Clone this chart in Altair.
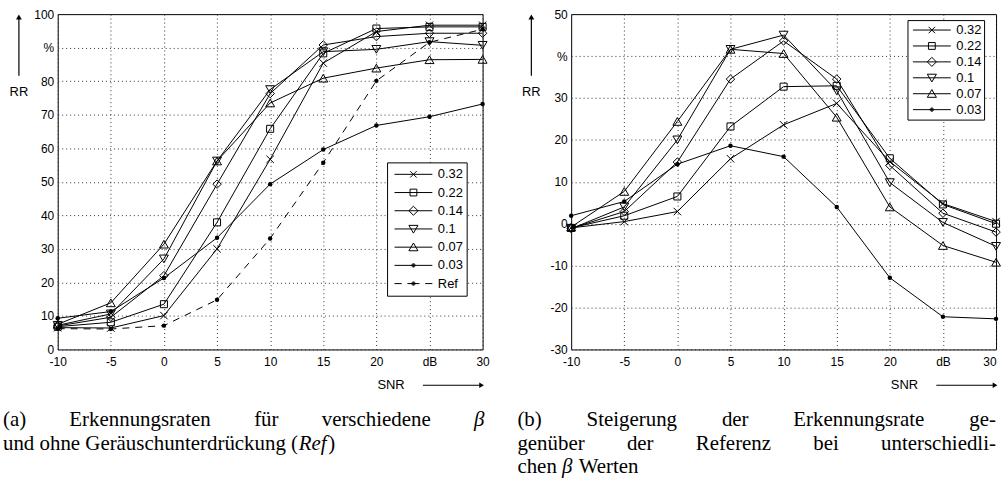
import altair as alt
import pandas as pd

# ---------------- data ----------------
snr = [-10, -5, 0, 5, 10, 15, 20, 25, 30]
series_a = ["0.32", "0.22", "0.14", "0.1", "0.07", "0.03", "Ref"]
series_b = ["0.32", "0.22", "0.14", "0.1", "0.07", "0.03"]

# (a) recognition rate RR in %
rr_032 = [6.5, 6.4, 10.1, 30.0, 56.7, 85.4, 94.8, 96.7, 96.7]
rr_022 = [6.8, 8.1, 13.5, 37.9, 65.8, 88.3, 95.7, 96.2, 96.2]
rr_014 = [7.0, 9.6, 22.0, 49.3, 76.3, 90.8, 93.3, 94.3, 94.3]
rr_010 = [7.2, 10.6, 27.0, 56.2, 77.5, 88.8, 89.5, 91.8, 90.7]
rr_007 = [7.5, 13.9, 31.4, 56.2, 73.5, 80.9, 83.9, 86.4, 86.5]
rr_003 = [9.3, 11.3, 21.3, 33.3, 49.3, 59.6, 66.8, 69.4, 73.2]
rr_ref = [6.2, 6.1, 7.1, 14.8, 33.1, 55.7, 80.1, 91.6, 95.5]

# (b) improvement over reference in %
gain_032 = [-1.0, 0.5, 2.9, 15.5, 23.6, 28.7, 14.8, 4.8, 0.5]
gain_022 = [-1.0, 1.9, 6.5, 23.2, 32.7, 32.9, 15.6, 4.6, 0.0]
gain_014 = [-1.1, 2.9, 14.7, 34.5, 43.6, 34.5, 13.9, 2.5, -2.0]
gain_010 = [-1.2, 4.0, 20.0, 41.6, 45.0, 31.7, 9.8, 0.3, -5.4]
gain_007 = [-0.8, 7.7, 24.4, 41.6, 40.6, 25.4, 4.0, -5.2, -9.2]
gain_003 = [1.9, 5.3, 14.2, 18.6, 16.0, 4.0, -12.9, -22.2, -22.7]

x_ticks = [-10, -5, 0, 5, 10, 15, 20, 25, 30]
y_ticks_a = [0, 10, 20, 30, 40, 50, 60, 70, 80, 90, 100]
y_ticks_b = [-30, -20, -10, 0, 10, 20, 30, 40, 50]

vals_a = [rr_032, rr_022, rr_014, rr_010, rr_007, rr_003, rr_ref]
vals_b = [gain_032, gain_022, gain_014, gain_010, gain_007, gain_003]

df_a = pd.DataFrame([{"snr": x, "v": v, "series": s}
                     for s, vs in zip(series_a, vals_a) for x, v in zip(snr, vs)])
df_b = pd.DataFrame([{"snr": x, "v": v, "series": s}
                     for s, vs in zip(series_b, vals_b) for x, v in zip(snr, vs)])

# ---------------- styling ----------------
SANS = "Liberation Sans"
SERIF = "Liberation Serif"
W, H = 427, 337

marker = {
    "0.32": ("M-1,-1L1,1M-1,1L1,-1", 56, False),
    "0.22": ("square", 50, False),
    "0.14": ("diamond", 72, False),
    "0.1": ("triangle-down", 80, False),
    "0.07": ("triangle-up", 80, False),
    "0.03": ("circle", 20, True),
    "Ref": ("circle", 20, True),
}

DOT = ("M0.09,0A0.09,0.09 0 1,1 -0.09,0A0.09,0.09 0 1,1 0.09,0"
       "M0.05,0A0.05,0.05 0 1,1 -0.05,0A0.05,0.05 0 1,1 0.05,0"
       "M0.015,0A0.015,0.015 0 1,1 -0.015,0A0.015,0.015 0 1,1 0.015,0")
legend_paths = {
    "0.32": "M-1,0L1,0M-0.17,-0.17L0.17,0.17M-0.17,0.17L0.17,-0.17",
    "0.22": "M-1,0L1,0M-0.18,-0.18L0.18,-0.18L0.18,0.18L-0.18,0.18Z",
    "0.14": "M-1,0L1,0M0,-0.24L0.24,0L0,0.24L-0.24,0Z",
    "0.1": "M-1,0L1,0M-0.24,-0.19L0.24,-0.19L0,0.22Z",
    "0.07": "M-1,0L1,0M-0.24,0.19L0.24,0.19L0,-0.22Z",
    "0.03": "M-1,0L1,0" + DOT,
    "Ref": "M-1,0L-0.62,0M-0.32,0L0.32,0M0.62,0L1,0" + DOT,
}

one = pd.DataFrame({"t": [""]})


def text_layer(txt, x, y, font=SANS, size=13, italic=False, align="left"):
    return alt.Chart(pd.DataFrame({"t": [txt]})).mark_text(
        align=align, baseline="middle", font=font, fontSize=size,
        fontStyle="italic" if italic else "normal", color="black"
    ).encode(x=alt.value(x), y=alt.value(y), text="t:N")


def panel(df, series, ydom, yticks, pct, leg, captions, arrow_x, last_right=False):
    xaxis_kw = dict(values=x_ticks, title=None, grid=True, labelPadding=7, labelFlush=False,
                    labelExpr="datum.value == 25 ? 'dB' : (datum.value < 0 ? '' + datum.value + '\u2002' : '' + datum.value)")
    if last_right:
        xaxis_kw["labelAlign"] = {"condition": {"test": "datum.value == 30", "value": "right"},
                                  "value": "center"}
    xenc = alt.X("snr:Q", scale=alt.Scale(domain=[-10, 30], nice=False, zero=False),
                 axis=alt.Axis(**xaxis_kw))
    yenc = alt.Y("v:Q", scale=alt.Scale(domain=ydom, nice=False, zero=False),
                 axis=alt.Axis(values=yticks, title=None, grid=True, labelPadding=4,
                               labelFlush=False,
                               labelExpr="datum.value == %d ? '%%' : '' + datum.value" % pct))
    base = alt.Chart(df).encode(x=xenc, y=yenc)
    layers = []
    solid = [s for s in series if s != "Ref"]
    layers.append(base.transform_filter(alt.FieldOneOfPredicate(field="series", oneOf=solid))
                  .mark_line(color="black", strokeWidth=1).encode(detail="series:N"))
    if "Ref" in series:
        layers.append(base.transform_filter(alt.datum.series == "Ref")
                      .mark_line(color="black", strokeWidth=1, strokeDash=[7, 6]))
    for s in series:
        shp, sz, filled = marker[s]
        layers.append(base.transform_filter(alt.datum.series == s).mark_point(
            shape=shp, size=sz, filled=filled, color="black", opacity=1, strokeWidth=1))
    # legend (built from the shape scale, no visible data marks)
    layers.append(base.transform_filter("false").mark_point(
        color="black", opacity=1, strokeWidth=1, size=1444, filled=False).encode(
        shape=alt.Shape("series:N",
                        scale=alt.Scale(domain=series, range=[legend_paths[s] for s in series]),
                        legend=alt.Legend(
                            title=None, orient="none", legendX=leg["x"], legendY=leg["y"],
                            padding=leg["pad"], strokeColor="black", fillColor="white",
                            symbolSize=1444, symbolStrokeWidth=1, symbolStrokeColor="black",
                            symbolFillColor="transparent", symbolOffset=leg["symoff"],
                            labelOffset=5, labelFont=SANS, labelFontSize=13, labelColor="black",
                            clipHeight=leg["clip"], rowPadding=leg["rowpad"],
                            labelExpr="datum.label == '0.1' ? '\u00a00.1' : datum.label"))))
    # axis annotations: RR with up arrow, SNR with right arrow
    layers.append(alt.Chart(one).mark_rule(color="black", strokeWidth=1.2).encode(
        x=alt.value(arrow_x), y=alt.value(4), y2=alt.value(62)))
    layers.append(alt.Chart(one).mark_point(shape="triangle-up", filled=True, size=34,
                                            color="black", opacity=1).encode(
        x=alt.value(arrow_x), y=alt.value(3)))
    layers.append(text_layer("RR", arrow_x, 78, align="center"))
    layers.append(text_layer("SNR", W - 92, 373, align="center"))
    layers.append(alt.Chart(one).mark_rule(color="black", strokeWidth=1.2).encode(
        x=alt.value(W - 60), x2=alt.value(W - 1), y=alt.value(373)))
    layers.append(alt.Chart(one).mark_point(shape="triangle-right", filled=True, size=30,
                                            color="black", opacity=1).encode(
        x=alt.value(W - 1), y=alt.value(373)))
    # caption (justified lines: words placed individually)
    for (txt, x, y, it) in captions:
        layers.append(text_layer(txt, x, y, font=SERIF, size=21, italic=it))
    return alt.layer(*layers).properties(width=W, height=H)


L1, L2, L3 = 408, 432, 455
cap_a = [
    ("(a)", -55, L1, False), ("Erkennungsraten", 11.7, L1, False), ("für", 197.4, L1, False),
    ("verschiedene", 265.3, L1, False), ("β", 418.3, L1, True),
    ("und ohne Geräuschunterdrückung (", -55, L2, False), ("Ref", 242.3, L2, True),
    (")", 271.8, L2, False),
]
cap_b = [
    ("(b)", -54, L1, False), ("Steigerung", 15.5, L1, False), ("der", 151.5, L1, False),
    ("Erkennungsrate", 223.3, L1, False), ("ge-", 400.1, L1, False),
    ("genüber", -54, L2, False), ("der", 56, L2, False), ("Referenz", 125.2, L2, False),
    ("bei", 243.4, L2, False), ("unterschiedli-", 311.5, L2, False),
    ("chen", -54, L3, False), ("β", -9.1, L3, True), ("Werten", 7.6, L3, False),
]

pa = panel(df_a, series_a, [0, 100], y_ticks_a, 90,
           {"x": 331, "y": 149, "pad": 3, "symoff": 4, "clip": 18, "rowpad": 0.3},
           cap_a, -39)
pb = panel(df_b, series_b, [-30, 50], y_ticks_b, 40,
           {"x": 338, "y": 6, "pad": 2, "symoff": 3, "clip": 16, "rowpad": 0},
           cap_b, -40, last_right=True)

chart = alt.hconcat(pa, pb, spacing=89, bounds="flush").properties(
    padding={"left": 2, "top": 6, "right": 0, "bottom": 0}, background="white"
).configure_view(stroke="black", strokeWidth=1).configure_axis(
    labelFont=SANS, labelFontSize=12, labelColor="black", domain=False, ticks=False,
    gridColor="#333333", gridDash=[1, 3], gridWidth=1, gridOpacity=1
).resolve_scale(shape="independent")

chart.save("out.html", embed_options={"renderer": "svg", "actions": False})
